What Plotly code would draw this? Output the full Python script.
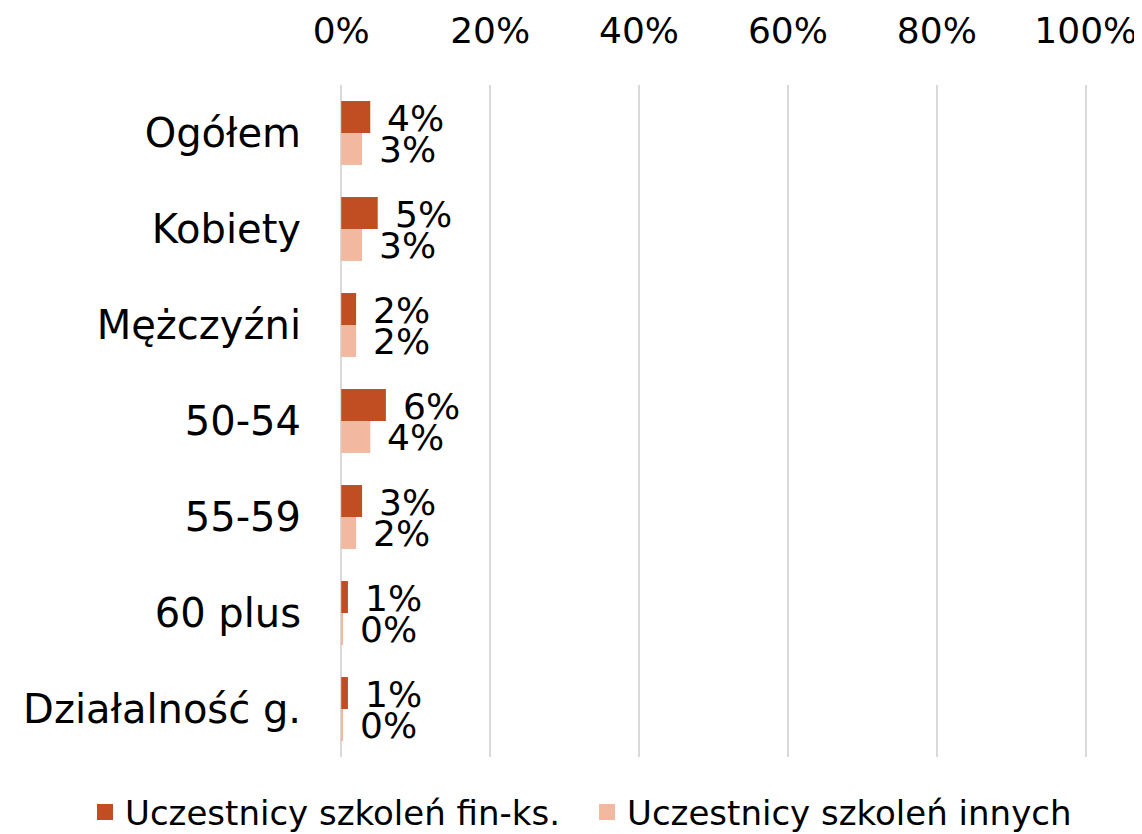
import plotly.graph_objects as go

categories = ["Ogółem", "Kobiety", "Mężczyźni", "50-54", "55-59", "60 plus", "Działalność g."]
series_names = ["Uczestnicy szkoleń fin-ks.", "Uczestnicy szkoleń innych"]
fin_ks = [3.9, 4.9, 2.0, 6.0, 2.8, 0.9, 0.9]
fin_ks_labels = ["4%", "5%", "2%", "6%", "3%", "1%", "1%"]
innych = [2.8, 2.8, 2.0, 3.9, 2.0, 0.2, 0.2]
innych_labels = ["3%", "3%", "2%", "4%", "2%", "0%", "0%"]
tick_vals = [0, 20, 40, 60, 80, 100]
tick_text = ["0%", "20%", "40%", "60%", "80%", "100%"]

colors = ["#C04E22", "#F2B9A0"]
FONT = "DejaVu Sans"

fig = go.Figure()
legend_ids = ["legend", "legend2"]
for name, vals, col, lg in [(series_names[0], fin_ks, colors[0], legend_ids[0]),
                            (series_names[1], innych, colors[1], legend_ids[1])]:
    fig.add_trace(go.Bar(
        y=categories, x=vals, name=name, orientation="h",
        marker=dict(color=col, line=dict(width=0)),
        showlegend=False, legendgroup=name,
    ))
    # legend entry with a larger square swatch
    fig.add_trace(go.Scatter(
        x=[None], y=[None], mode="markers", name=name, legendgroup=name,
        marker=dict(symbol="square", size=16, color=col, line=dict(width=0)),
        legend=lg, showlegend=True, hoverinfo="skip",
    ))

annotations = []
for vals, labels, off in [(fin_ks, fin_ks_labels, -0.166), (innych, innych_labels, 0.166)]:
    for i, (v, lab) in enumerate(zip(vals, labels)):
        annotations.append(dict(
            x=v, y=i + off, xref="x", yref="y", text=lab, showarrow=False,
            xanchor="left", yanchor="middle", xshift=15, yshift=-1,
            font=dict(family=FONT, size=36, color="#000000"),
        ))

legend_font = dict(family=FONT, size=34, color="#000000")
# the page body adds an 8px offset, so the figure is sized 8px smaller
fig.update_layout(
    width=1134, height=826,
    paper_bgcolor="white", plot_bgcolor="white",
    margin=dict(l=331, r=54, t=77, b=77, autoexpand=False),
    barmode="group", bargap=0.333, bargroupgap=0,
    font=dict(family=FONT, size=36, color="#000000"),
    xaxis=dict(
        side="top", range=[-0.3, 100.3], tickvals=tick_vals, ticktext=tick_text,
        showgrid=True, gridcolor="#D9D9D9", gridwidth=2, zeroline=False,
        showline=False, ticks="", automargin=False, ticklabelstandoff=34,
        ticklabeloverflow="allow",
        tickfont=dict(family=FONT, size=36, color="#000000"),
    ),
    yaxis=dict(
        autorange="reversed", showgrid=False, zeroline=False, showline=False,
        ticks="", automargin=False, ticklabelstandoff=37,
        tickfont=dict(family=FONT, size=40, color="#000000"),
    ),
    legend=dict(
        orientation="h", xref="container", yref="container",
        x=0.0679, xanchor="left", y=0.026, yanchor="middle",
        font=legend_font, itemsizing="trace", bgcolor="rgba(0,0,0,0)",
    ),
    legend2=dict(
        orientation="h", xref="container", yref="container",
        x=0.5106, xanchor="left", y=0.026, yanchor="middle",
        font=legend_font, itemsizing="trace", bgcolor="rgba(0,0,0,0)",
    ),
    annotations=annotations,
    showlegend=True,
)

fig.write_html("out.html")
